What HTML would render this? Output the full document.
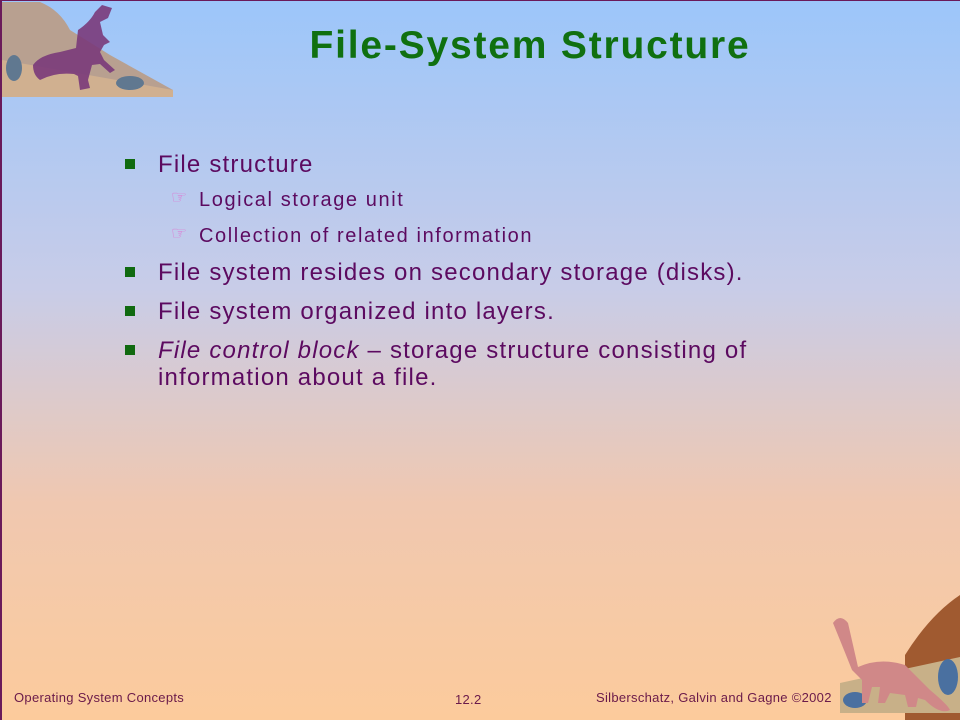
<!DOCTYPE html>
<html><head><meta charset="utf-8"><style>
body{margin:0;}
#s{position:relative;width:960px;height:720px;overflow:hidden;font-family:"Liberation Sans",sans-serif;color:#5c0a60;
background:linear-gradient(to bottom,#9cc6fa 0%,#c8cce8 40%,#f0c8b0 70%,#fccb9c 100%);}
#s:before{content:"";position:absolute;left:0;top:0;width:2px;height:720px;background:#6a1a5a;}
#s:after{content:"";position:absolute;left:0;top:0;width:960px;height:1px;background:#6a1a5a;}
h1{position:absolute;left:0;width:1060px;top:24px;margin:0;text-align:center;font-size:39px;font-weight:bold;color:#107010;letter-spacing:1.8px;}
.b{position:absolute;left:158px;font-size:24px;line-height:27px;letter-spacing:1.2px;}
.b:before{content:"";position:absolute;left:-33px;top:8px;width:10px;height:10px;background:#106a10;}
.sb{position:absolute;left:199px;font-size:20px;letter-spacing:1.6px;}
.sb:before{content:"\261E";position:absolute;left:-28px;top:-2px;font-size:18px;color:#e070d0;font-family:"DejaVu Sans";}
.f{position:absolute;top:690px;font-size:13px;color:#6a1a4a;letter-spacing:0.3px;}
</style></head><body><div id="s">
<svg style="position:absolute;left:0;top:0" width="175" height="97">
<path d="M2 2 L40 2 Q60 10 70 30 L110 55 L173 90 L173 97 L2 97Z" fill="#b8a090"/>
<path d="M2 60 L60 70 L173 90 L173 97 L2 97Z" fill="#d0b090"/>
<ellipse cx="14" cy="68" rx="8" ry="13" fill="#607890"/>
<ellipse cx="130" cy="83" rx="14" ry="7" fill="#607890"/>
<path d="M33 65 Q40 55 60 52 L76 48 L78 30 Q90 22 95 12 L102 5 L112 8 L108 18 L100 22 L103 35 L110 42 L104 45 L100 52 L104 60 L115 70 L110 73 L100 64 L92 65 L88 80 L90 88 L80 90 L78 76 L74 74 Q55 72 40 80 Q33 75 33 65Z" fill="#7a3a7a" opacity="0.9"/>
</svg>
<svg style="position:absolute;left:830px;top:595px" width="130" height="125">
<path d="M75 60 Q100 20 130 0 L130 125 L75 125Z" fill="#a05a30"/>
<path d="M10 88 L130 62 L130 118 L10 118Z" fill="#c8b088"/>
<ellipse cx="118" cy="82" rx="10" ry="18" fill="#4a70a0"/>
<ellipse cx="25" cy="105" rx="12" ry="8" fill="#4a70a0"/>
<path d="M3 28 Q10 18 18 28 L28 72 Q50 62 75 70 L100 95 Q118 110 120 115 Q110 120 95 105 L88 103 L86 112 L78 112 L75 100 L60 98 L55 108 L48 108 L50 92 L42 92 L38 108 L32 108 L32 85 L22 75 Q10 45 3 28Z" fill="#d08888"/>
</svg>
<h1>File-System Structure</h1>
<div class="b" style="top:151px">File structure</div>
<div class="sb" style="top:189px">Logical storage unit</div>
<div class="sb" style="top:225px">Collection of related information</div>
<div class="b" style="top:259px">File system resides on secondary storage (disks).</div>
<div class="b" style="top:298px">File system organized into layers.</div>
<div class="b" style="top:337px"><i>File control block</i> – storage structure consisting of<br>information about a file.</div>
<div class="f" style="left:14px">Operating System Concepts</div>
<div class="f" style="left:455px;top:692px">12.2</div>
<div class="f" style="left:596px">Silberschatz, Galvin and Gagne &#169;2002</div>
</div></body></html>
